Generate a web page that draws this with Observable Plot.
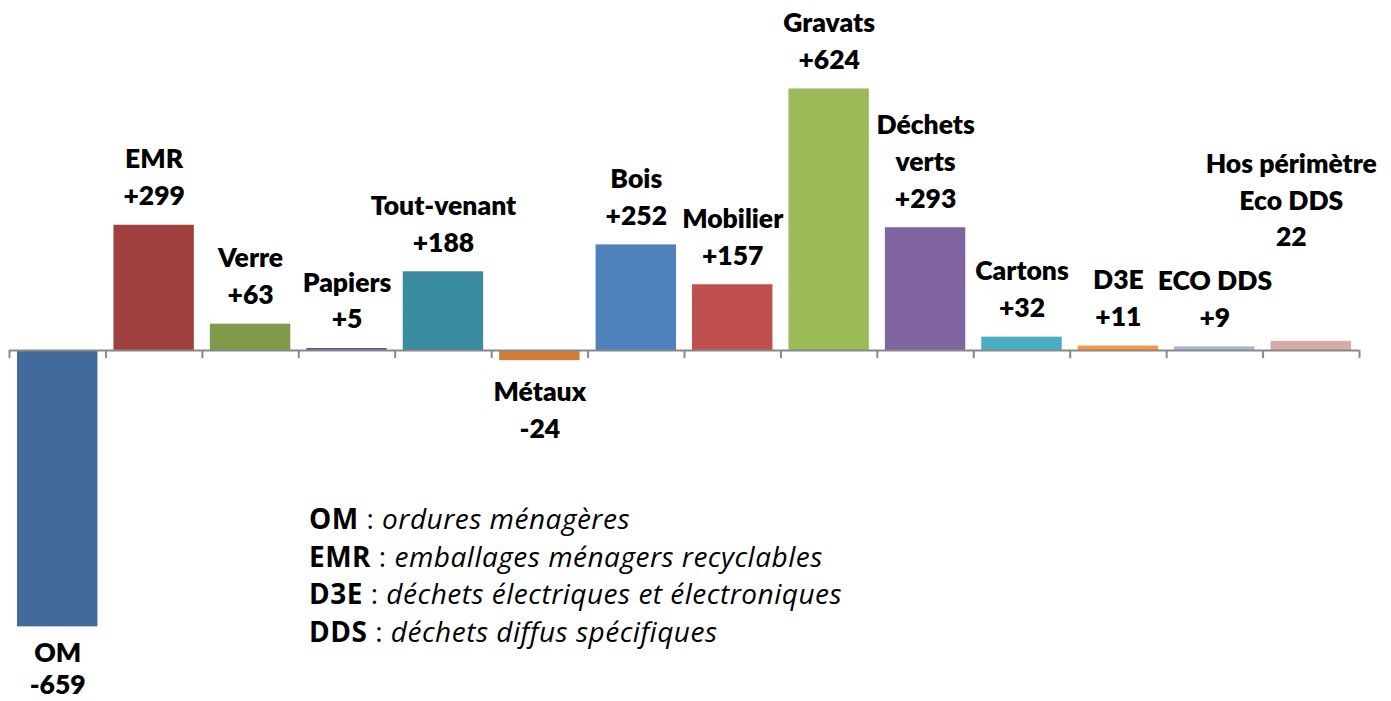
<!DOCTYPE html>
<html>
<head>
<meta charset="utf-8">
<script src="https://cdn.jsdelivr.net/npm/d3@7"></script>
<script src="https://cdn.jsdelivr.net/npm/@observablehq/plot@0.6"></script>
<style>
  html, body { margin: 0; padding: 0; background: #fff; }
  #wrap { position: relative; width: 1391px; height: 701px; }
  #legend { position: absolute; left: 309px; top: 500px; font-family: "Open Sans", sans-serif; font-size: 28px; letter-spacing: 0.5px; line-height: 37.5px; color: #000; white-space: nowrap; }
  #legend b { font-weight: 700; }
  #legend i { font-style: italic; }
</style>
</head>
<body>
<div id="wrap"><div id="legend"></div></div>
<script>
const categories = ["OM","EMR","Verre","Papiers","Tout-venant","Métaux","Bois","Mobilier","Gravats","Déchets verts","Cartons","D3E","ECO DDS","Hos périmètre Eco DDS"];
const values = [-659, 299, 63, 5, 188, -24, 252, 157, 624, 293, 32, 11, 9, 22];
const labels = ["OM\n-659","EMR\n+299","Verre\n+63","Papiers\n+5","Tout-venant\n+188","Métaux\n-24","Bois\n+252","Mobilier\n+157","Gravats\n+624","Déchets\nverts\n+293","Cartons\n+32","D3E\n+11","ECO DDS\n+9","Hos périmètre\nEco DDS\n22"];
const colors = ["#41699A","#9E413E","#7F9A48","#6B5590","#3A8BA0","#D17C36","#4F81BD","#C0504D","#9BBB59","#8064A2","#4BACC6","#F79646","#AAB9D3","#D9A9A9"];
const legendAbbr = ["OM","EMR","D3E","DDS"];
const legendText = ["ordures ménagères","emballages ménagers recyclables","déchets électriques et électroniques","déchets diffus spécifiques"];

const data = categories.map((c, i) => ({i, category: c, value: values[i], label: labels[i], color: colors[i]}));
const ticks = d3.range(categories.length + 1);

const W = 1391, H = 701;
const yDomain = [-837, 835];
const tickLen = 8 * (yDomain[1] - yDomain[0]) / H;

const lastIdx = categories.length - 1;
const pos = data.filter(d => d.value >= 0 && d.i !== lastIdx);
const negBig = data.filter(d => d.i === 0);
const negSmall = data.filter(d => d.value < 0 && d.i !== 0);
const special = data.filter(d => d.i === lastIdx);

const font = "Lato, sans-serif";
const common = {fontSize: 26.5, fontWeight: 800, lineHeight: 1.39, fill: "#000"};
const chart = Plot.plot({
  width: W, height: H,
  marginLeft: 9, marginRight: 32, marginTop: 0, marginBottom: 0,
  x: {domain: [0, categories.length], axis: null},
  y: {domain: yDomain, axis: null},
  style: {fontFamily: font, background: "#fff"},
  marks: [
    Plot.rect(data, {x1: d => d.i, x2: d => d.i + 1, y1: 0, y2: "value", fill: "color", insetLeft: 8, insetRight: 8}),
    Plot.ruleY([0], {stroke: "#888", strokeWidth: 2}),
    Plot.ruleX(ticks, {x: d => d, y1: 0, y2: -tickLen, stroke: "#888", strokeWidth: 2}),
    Plot.text(pos, {x: d => d.i + 0.5, y: "value", text: "label", lineAnchor: "bottom", dy: -20, ...common}),
    Plot.text(negSmall, {x: d => d.i + 0.5, y: "value", text: "label", lineAnchor: "top", dy: 14, ...common}),
    Plot.text(negBig, {x: d => d.i + 0.5, y: "value", text: "label", lineAnchor: "top", dy: 12, ...common, lineHeight: 1.22}),
    Plot.text(special, {x: d => d.i + 0.5, y: "value", text: "label", lineAnchor: "bottom", dy: -95, dx: -20, ...common})
  ]
});
document.getElementById("wrap").prepend(chart);
const leg = document.getElementById("legend");
legendAbbr.forEach((a, k) => {
  const div = document.createElement("div");
  const b = document.createElement("b"); b.textContent = a;
  const i = document.createElement("i"); i.textContent = legendText[k];
  div.append(b, document.createTextNode(" : "), i);
  leg.append(div);
});
</script>
</body>
</html>
